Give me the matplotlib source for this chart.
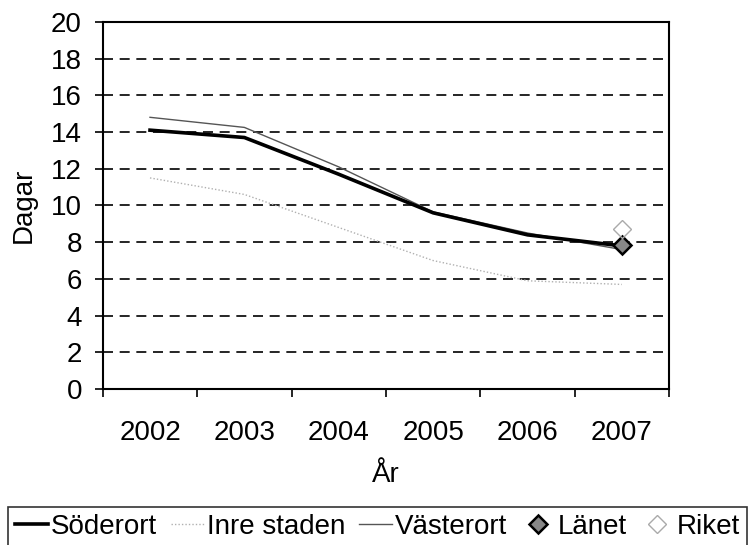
import numpy as np
from matplotlib import pyplot as plt

plt.rcParams['font.family'] = ['Liberation Sans', 'DejaVu Sans']

years = ["2002", "2003", "2004", "2005", "2006", "2007"]
soderort = [14.1, 13.7, 11.7, 9.6, 8.4, 7.8]
inre_staden = [11.5, 10.6, 8.8, 7.0, 5.9, 5.7]
vasterort = [14.8, 14.25, 12.1, 9.65, 8.5, 7.6]
lanet_2007 = 7.85
riket_2007 = 8.7

x = np.arange(len(years))

fig = plt.figure(figsize=(7.56, 5.45), dpi=100)
ax = fig.add_axes([0.136, 0.286, 0.749, 0.674])

for yy in range(2, 20, 2):
    ax.axhline(yy, color='black', lw=1.2, ls=(0, (6, 4)), zorder=1)

ax.plot(x, soderort, color='black', lw=2.6, label='Söderort', zorder=3)
ax.plot(x, inre_staden, color='#b0b0b0', lw=1.0, ls=(0, (1, 1.5)), label='Inre staden', zorder=2)
ax.plot(x, vasterort, color='#555555', lw=1.0, label='Västerort', zorder=2)
ax.plot([x[-1]], [lanet_2007], ls='none', marker='D', ms=9, mfc='#888888', mec='black',
        mew=1.8, label='Länet', zorder=4)
ax.plot([x[-1]], [riket_2007], ls='none', marker='D', ms=9, mfc='none', mec='#aaaaaa',
        mew=1.0, label='Riket', zorder=4)

ax.set_xlim(-0.5, len(years) - 0.5)
ax.set_ylim(0, 20)
ax.set_yticks(range(0, 21, 2))
ax.set_xticks(x)
ax.set_xticklabels(years)
ax.set_xticks(np.arange(-0.5, len(years), 1), minor=True)
ax.tick_params(axis='x', which='major', length=0, pad=22, labelsize=20)
ax.tick_params(axis='x', which='minor', length=6, direction='out', width=1.2)
ax.tick_params(axis='y', length=6, width=1.2, labelsize=20, pad=9)
for s in ax.spines.values():
    s.set_linewidth(1.5)

ax.set_ylabel('Dagar', fontsize=20, labelpad=10)
ax.set_xlabel('År', fontsize=20, labelpad=12)

leg = fig.legend(loc='upper left', bbox_to_anchor=(0.010, 0.0697), ncol=5, fontsize=20,
                 frameon=True, fancybox=False, handlelength=1.2, handletextpad=0.1,
                 columnspacing=0.5, borderpad=0.25, borderaxespad=0)
leg.get_frame().set_edgecolor('black')
leg.get_frame().set_linewidth(1.2)

fig.savefig('out.png', dpi=100)
